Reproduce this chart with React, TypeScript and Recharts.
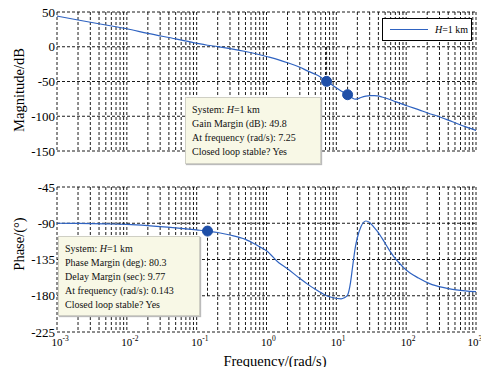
import { ComposedChart, Line, XAxis, YAxis, CartesianGrid, ReferenceDot, ReferenceLine, Legend } from 'recharts';

// frequency (rad/s) and the Bode response
const FREQ = [0.001, 0.002, 0.005, 0.01, 0.02, 0.05, 0.1, 0.143, 0.2, 0.3, 0.5, 0.8, 1, 1.5, 2, 3, 4, 5, 5.7, 7.25, 9, 11.7, 13, 14.5, 16, 17.1, 18.7, 20, 22.5, 26.5, 30, 35, 39, 45, 57, 70, 88.5, 100, 150, 213, 265, 460, 700, 1000];
const MAG = [44.2, 38.5, 31.3, 25.9, 19.2, 11.3, 5.0, 2.2, 0.2, -2.6, -6.8, -11.5, -14.0, -18.8, -23.0, -29.5, -35.5, -39.5, -42.5, -49.8, -56, -63.5, -66.5, -69, -72, -74, -75.5, -75, -73, -71, -70.3, -70.2, -70.8, -72.3, -75.5, -79, -82.5, -84.5, -90.5, -96, -99, -108, -115, -120.5];
const PHASE = [-90, -90.2, -90.8, -91.5, -93, -95.8, -98.3, -99.7, -101.5, -104.6, -110, -119.3, -124, -139, -146.5, -158.5, -166.5, -172, -175, -180, -182.5, -183.8, -182.5, -179, -163, -144, -120, -108, -94.3, -87.2, -89, -95.5, -100.5, -108.5, -123, -134, -143.5, -148, -158, -164.6, -167.5, -172, -174, -175];

const DECADES = [0.001, 0.01, 0.1, 1, 10, 100, 1000];
const EXPONENTS = ['-3', '-2', '-1', '0', '1', '2', '3'];
const MAG_TICKS = [-150, -100, -50, 0, 50];
const PHASE_TICKS = [-225, -180, -135, -90, -45];

// margin markers
const GAIN_MARGIN_PTS = [{ f: 7.25, v: -49.8 }, { f: 14.5, v: -69 }];
const PHASE_MARGIN_PT = { f: 0.143, v: -99.7 };

const GAIN_TEXT = ['Gain Margin (dB): 49.8', 'At frequency (rad/s): 7.25', 'Closed loop stable? Yes'];
const PHASE_TEXT = ['Phase Margin (deg): 80.3', 'Delay Margin (sec): 9.77', 'At frequency (rad/s): 0.143', 'Closed loop stable? Yes'];

const data = FREQ.map((f, i) => ({ f, mag: MAG[i], phase: PHASE[i] }));
const gridTicks = DECADES.slice(0, -1).flatMap((d) => [1, 2, 3, 4, 5, 6, 7, 8, 9].map((m) => m * d)).concat([1000]);

const FONT = '"Liberation Serif", "Times New Roman", serif';
const LINE = '#2f63c1';
const DOT = '#1f4fa8';
const GRID = '#000';

function XTick({ x, y, payload }: any) {
  const idx = DECADES.findIndex((d) => Math.abs(d - payload.value) / d < 1e-6);
  if (idx < 0) return null;
  const shift = idx === DECADES.length - 1 ? -3 : 0;
  return (
    <text x={x - 5.5 + shift} y={y + 14} fontFamily={FONT} fontSize={11} fill="#000" textAnchor="start">
      10<tspan dy={-5} fontSize={7.5}>{EXPONENTS[idx]}</tspan>
    </text>
  );
}

function NoTick() {
  return null;
}

function LegendBox() {
  return (
    <div style={{ width: 88, height: 21, border: '1px solid #000', background: '#fff', display: 'flex', alignItems: 'center', fontFamily: FONT, fontSize: 10 }}>
      <div style={{ width: 38, height: 0, borderTop: `1.2px solid ${LINE}`, marginLeft: 7, marginRight: 7 }} />
      <span><i>H</i>=1 km</span>
    </div>
  );
}

function InfoBox({ left, top, width, height, lines }: { left: number; top: number; width: number; height: number; lines: string[] }) {
  return (
    <div style={{ position: 'absolute', left, top, width, height, background: '#f8f8e6', border: '1px solid #cfcfc4', boxShadow: '1px 1px 1px #bbb', fontFamily: FONT, fontSize: 10, lineHeight: '14px', padding: '5px 0 0 6px', boxSizing: 'border-box', color: '#111', whiteSpace: 'nowrap' }}>
      <div>System: <i>H</i>=1 km</div>
      {lines.map((t) => <div key={t}>{t}</div>)}
    </div>
  );
}

const xAxisCommon = {
  dataKey: 'f',
  type: 'number' as const,
  scale: 'log' as const,
  domain: [0.001, 1000],
  ticks: gridTicks,
  interval: 0,
  allowDataOverflow: true,
  axisLine: false,
  tickLine: false,
  tickSize: 0,
  tickMargin: 0,
};

const yTickStyle = { fontFamily: FONT, fontSize: 13, fill: '#000' };

export default function App() {
  return (
    <div style={{ position: 'absolute', left: 0, top: 0, width: 481, height: 367, background: '#fff', fontFamily: FONT, overflow: 'hidden' }}>
      {/* Magnitude */}
      <div style={{ position: 'absolute', left: 0, top: 0 }}>
        <ComposedChart width={481} height={180} data={data} margin={{ top: 12, right: 5, bottom: 5, left: 0 }}>
          <CartesianGrid stroke={GRID} strokeWidth={0.9} strokeDasharray="3 2" />
          <XAxis {...xAxisCommon} height={1} tick={<NoTick />} />
          <YAxis domain={[-150, 50]} ticks={MAG_TICKS} interval={0} width={57} axisLine={false} tickLine={false} tickSize={0} tickMargin={2} tick={yTickStyle} allowDataOverflow />
          {GAIN_MARGIN_PTS.map((p) => (
            <ReferenceLine key={p.f} segment={[{ x: p.f, y: 0 }, { x: p.f, y: p.v }]} stroke={GRID} strokeWidth={0.9} strokeDasharray="3 2" />
          ))}
          <Line dataKey="mag" type="monotone" stroke={LINE} strokeWidth={1.2} dot={false} isAnimationActive={false} name="H=1 km" />
          {GAIN_MARGIN_PTS.map((p) => (
            <ReferenceDot key={'d' + p.f} x={p.f} y={p.v} r={5} fill={DOT} stroke={DOT} />
          ))}
          <Legend content={<LegendBox />} wrapperStyle={{ position: 'absolute', left: 382, top: 18, width: 90 }} />
        </ComposedChart>
      </div>

      {/* Phase */}
      <div style={{ position: 'absolute', left: 0, top: 180 }}>
        <ComposedChart width={481} height={187} data={data} margin={{ top: 7, right: 5, bottom: 0, left: 0 }}>
          <CartesianGrid stroke={GRID} strokeWidth={0.9} strokeDasharray="3 2" />
          <XAxis {...xAxisCommon} height={35} tick={<XTick />} />
          <YAxis domain={[-225, -45]} ticks={PHASE_TICKS} interval={0} width={57} axisLine={false} tickLine={false} tickSize={0} tickMargin={2} tick={yTickStyle} allowDataOverflow />
          <ReferenceLine segment={[{ x: PHASE_MARGIN_PT.f, y: -180 }, { x: PHASE_MARGIN_PT.f, y: PHASE_MARGIN_PT.v }]} stroke={GRID} strokeWidth={0.9} strokeDasharray="3 2" />
          <Line dataKey="phase" type="monotone" stroke={LINE} strokeWidth={1.2} dot={false} isAnimationActive={false} />
          <ReferenceDot x={PHASE_MARGIN_PT.f} y={PHASE_MARGIN_PT.v} r={5} fill={DOT} stroke={DOT} />
        </ComposedChart>
      </div>

      <InfoBox left={185} top={97} width={136} height={67} lines={GAIN_TEXT} />
      <InfoBox left={58} top={236} width={142} height={80} lines={PHASE_TEXT} />

      {/* axis titles */}
      <div style={{ position: 'absolute', left: 19, top: 90, transform: 'translate(-50%, -50%) rotate(-90deg)', fontSize: 14.5, whiteSpace: 'nowrap' }}>Magnitude/dB</div>
      <div style={{ position: 'absolute', left: 19, top: 244, transform: 'translate(-50%, -50%) rotate(-90deg)', fontSize: 14.5, whiteSpace: 'nowrap' }}>Phase/(°)</div>
      <div style={{ position: 'absolute', left: 275, top: 361, transform: 'translate(-50%, -50%)', fontSize: 14.5, whiteSpace: 'nowrap' }}>Frequency/(rad/s)</div>
    </div>
  );
}
